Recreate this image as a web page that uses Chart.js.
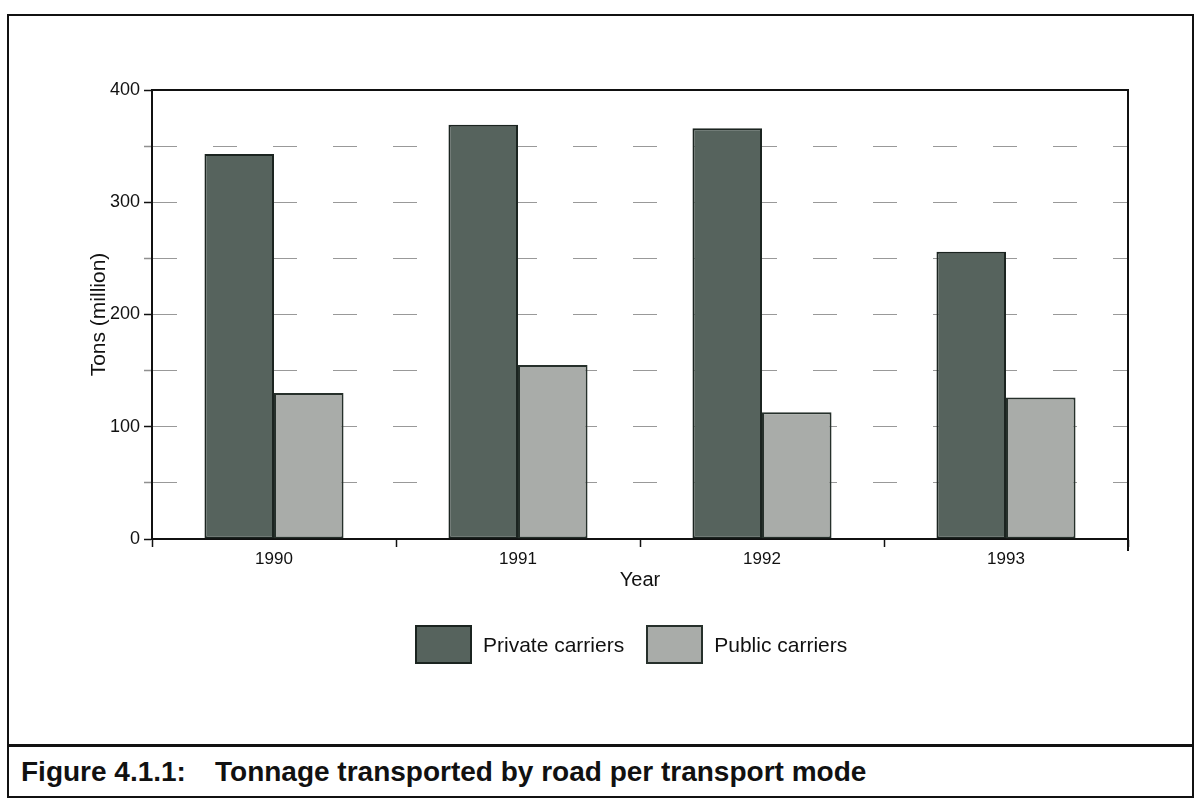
<!DOCTYPE html>
<html>
<head>
<meta charset="utf-8">
<script src="https://cdn.jsdelivr.net/npm/chart.js@4.4.1/dist/chart.umd.min.js"></script>
<style>
  body { margin: 0; background: #fff; font-family: "Liberation Sans", Arial, sans-serif; }
  #frame { position: absolute; left: 7px; top: 14px; width: 1183px; height: 780px; border: 2px solid #111; }
  #wrap { position: absolute; left: 0; top: 0; width: 1181px; height: 727px; }
  #sep { position: absolute; left: 0; top: 728px; width: 1183px; border-top: 3px solid #111; }
  .cap { position: absolute; top: 740px; font-weight: bold; font-size: 28px; color: #111; white-space: pre; }
  #legend { position: absolute; left: 406px; top: 609px; display: flex; align-items: center; }
  .item { display: flex; align-items: center; margin-right: 22px; }
  .box { width: 57px; height: 39px; border: 2px solid #1e2622; margin-right: 11px; box-sizing: border-box; }
  .lbl { font-size: 21px; color: #111; }
</style>
</head>
<body>
<div id="frame">
  <div id="wrap"><canvas id="myChart"></canvas></div>
  <div id="legend"></div>
  <div id="sep"></div>
  <div class="cap" style="left: 12px;">Figure 4.1.1:</div>
  <div class="cap" style="left: 206px;">Tonnage transported by road per transport mode</div>
</div>
<script>
// Dados
const anos = ['1990', '1991', '1992', '1993'];
const privados = [343, 369, 366, 256];
const publicos = [130, 155, 113, 126];
const nomesSeries = ['Private carriers', 'Public carriers'];
const yMax = 400;
const yPasso = 50;

// moldura do chartArea (topo e direita)
const framePlugin = {
  id: 'frameArea',
  afterDraw(chart) {
    const { ctx, chartArea: a } = chart;
    ctx.save();
    ctx.strokeStyle = '#111';
    ctx.lineWidth = 2;
    ctx.beginPath();
    ctx.moveTo(a.left, a.top);
    ctx.lineTo(a.right, a.top);
    ctx.lineTo(a.right, a.bottom + 12);
    ctx.stroke();
    ctx.restore();
  }
};

const canvas = document.getElementById('myChart');
const chart = new Chart(canvas.getContext('2d'), {
  type: 'bar',
  data: {
    labels: anos,
    datasets: [{
      label: nomesSeries[0],
      data: privados,
      backgroundColor: '#56635d',
      borderColor: '#1b2420',
      borderWidth: 2,
      borderSkipped: false
    }, {
      label: nomesSeries[1],
      data: publicos,
      backgroundColor: '#a9aca9',
      borderColor: '#26302b',
      borderWidth: 2,
      borderSkipped: false
    }]
  },
  options: {
    responsive: true,
    maintainAspectRatio: false,
    animation: false,
    layout: { padding: { left: 74, top: 74, right: 62, bottom: 147 } },
    datasets: { bar: { categoryPercentage: 0.57, barPercentage: 1.0 } },
    plugins: {
      legend: { display: false },
      tooltip: { enabled: false }
    },
    scales: {
      x: {
        afterFit: s => { s.height = 57; },
        grid: { offset: true, drawOnChartArea: false, tickLength: 8, tickColor: '#111', tickWidth: 1.5 },
        border: { color: '#111', width: 2 },
        ticks: { color: '#111', font: { family: 'Liberation Sans', size: 17 }, padding: 2 },
        title: { display: true, text: 'Year', color: '#111', font: { family: 'Liberation Sans', size: 20 }, padding: { top: 0 } }
      },
      y: {
        min: 0,
        max: yMax,
        afterFit: s => { s.width = 69; },
        ticks: {
          stepSize: yPasso,
          color: '#111',
          font: { family: 'Liberation Sans', size: 18 },
          padding: 4,
          callback: v => (v % 100 === 0 ? v : '')
        },
        grid: {
          color: ctx => (ctx.tick && ctx.tick.value === 0 ? 'rgba(0,0,0,0)' : 'rgba(70,70,70,0.55)'),
          lineWidth: 1,
          tickLength: 8,
          tickColor: ctx => (ctx.tick && ctx.tick.value % 100 === 0 ? '#111' : 'rgba(70,70,70,0.6)'),
          tickWidth: 1.5
        },
        border: { color: '#111', width: 2, dash: [24, 36] },
        title: { display: true, text: 'Tons (million)', color: '#111', font: { family: 'Liberation Sans', size: 21 }, padding: { bottom: 0 } }
      }
    }
  },
  plugins: [framePlugin]
});

// Legenda em HTML a partir dos datasets
const legendEl = document.getElementById('legend');
chart.data.datasets.forEach(ds => {
  const item = document.createElement('div');
  item.className = 'item';
  const box = document.createElement('span');
  box.className = 'box';
  box.style.background = ds.backgroundColor;
  box.style.borderColor = ds.borderColor;
  const lbl = document.createElement('span');
  lbl.className = 'lbl';
  lbl.textContent = ds.label;
  item.appendChild(box);
  item.appendChild(lbl);
  legendEl.appendChild(item);
});
</script>
</body>
</html>
